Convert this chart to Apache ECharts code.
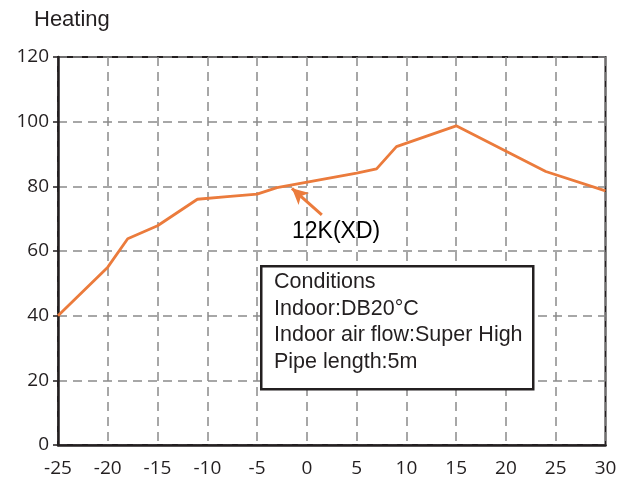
<!DOCTYPE html>
<html>
<head>
<meta charset="utf-8">
<script src="https://cdn.jsdelivr.net/npm/echarts@6/dist/echarts.min.js"></script>
<style>html,body{margin:0;padding:0;background:#fff;}#c{width:636px;height:486px;}</style>
</head>
<body>
<div id="c"></div>
<script>
const temps = [-25, -20, -18, -15, -11, -8, -5, -3, 5, 7, 9, 15, 24, 30];
const capacity = [40, 55, 63.8, 67.8, 76, 76.8, 77.6, 79.6, 84.1, 85.4, 92.3, 98.7, 84.6, 78.6];
const xTicks = { min: -25, max: 30, interval: 5 };
const yTicks = { min: 0, max: 120, interval: 20 };
const titleText = 'Heating';
const annotationText = '12K(XD)';
const arrowFrom = [1.5, 71.2];
const arrowTo = [-1.5, 79.4];
const conditionLines = ['Conditions', 'Indoor:DB20°C', 'Indoor air flow:Super High', 'Pipe length:5m'];

const ink = '#231f20';
const orange = '#eb7b3c';
const chart = echarts.init(document.getElementById('c'), null, { renderer: 'canvas' });

const boxTexts = conditionLines.map((t, i) => ({
  type: 'text', left: 274, top: 271 + i * 26.7, z: 101,
  style: { text: t, font: '21.5px "Liberation Sans", Arial, sans-serif', fill: ink }
}));

chart.setOption({
  animation: false,
  backgroundColor: '#fff',
  title: {
    text: titleText, left: 29, top: 4,
    textStyle: { fontFamily: '"Liberation Sans", Arial, sans-serif', fontSize: 22, fontWeight: 'normal', color: ink }
  },
  grid: { left: 58, right: 30.5, top: 57, bottom: 41, show: true, borderColor: ink, borderWidth: 2, backgroundColor: 'transparent' },
  xAxis: {
    type: 'value', min: xTicks.min, max: xTicks.max, interval: xTicks.interval,
    axisLine: { show: true, onZero: false, lineStyle: { color: ink, width: 2.5 } },
    axisTick: { show: false },
    axisLabel: { margin: 14, color: ink, fontFamily: '"Open Sans", sans-serif', fontSize: 19 },
    splitLine: { show: true, lineStyle: { color: '#8a8a8a', width: 1.5, type: [9, 6] } }
  },
  yAxis: {
    type: 'value', min: yTicks.min, max: yTicks.max, interval: yTicks.interval,
    axisLine: { show: true, onZero: false, lineStyle: { color: ink, width: 2.5 } },
    axisTick: { show: true, length: 5, lineStyle: { color: ink, width: 1.5 } },
    axisLabel: { margin: 9, color: ink, fontFamily: '"Open Sans", sans-serif', fontSize: 19 },
    splitLine: { show: true, lineStyle: { color: '#8a8a8a', width: 1.5, type: [9, 6] } }
  },
  series: [{
    type: 'line',
    data: temps.map((t, i) => [t, capacity[i]]),
    showSymbol: false,
    lineStyle: { color: orange, width: 2.8 },
    itemStyle: { color: orange },
    markLine: {
      silent: true, animation: false,
      symbol: ['none', 'arrow'], symbolSize: [12, 16],
      label: { show: false },
      lineStyle: { color: orange, width: 3, type: 'solid' },
      data: [[{ coord: arrowFrom }, { coord: arrowTo }]]
    }
  }],
  graphic: [
    { type: 'text', left: 292, top: 220, z: 101,
      style: { text: annotationText, font: '23px "Liberation Sans", Arial, sans-serif', fill: '#000' } },
    { type: 'rect', left: 260, top: 265, z: 100,
      shape: { width: 272, height: 123 },
      style: { fill: '#fff', stroke: ink, lineWidth: 2.5 } }
  ].concat(boxTexts)
});
</script>
</body>
</html>
